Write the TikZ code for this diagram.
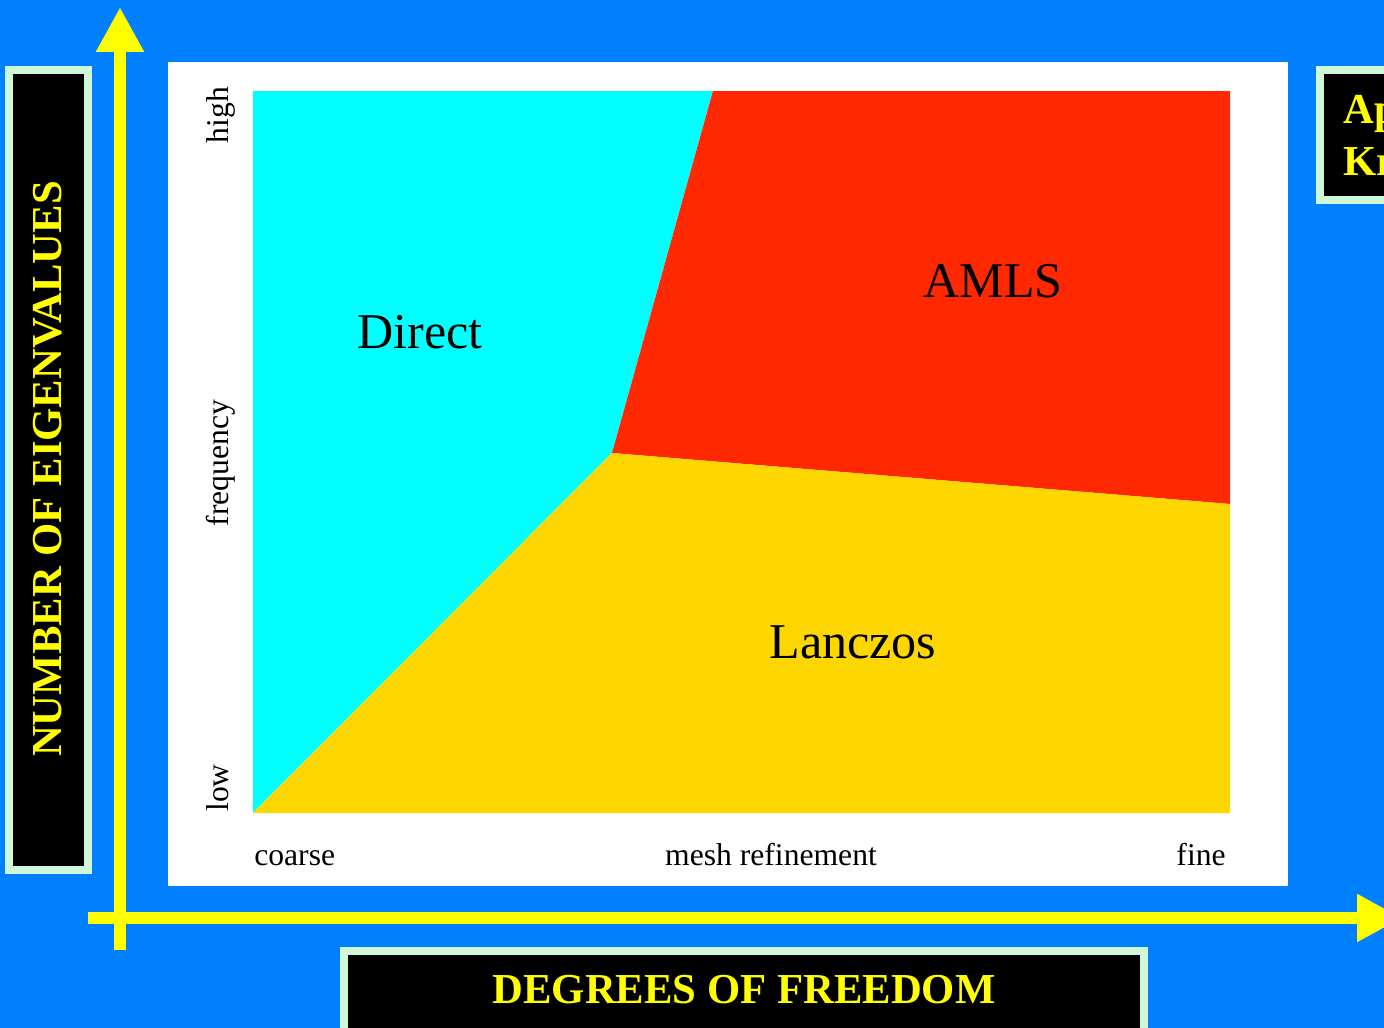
\documentclass[tikz,border=0pt]{standalone}
\usepackage{fontspec}
\setmainfont{Liberation Serif}
\usetikzlibrary{arrows.meta}
\definecolor{bgblue}{RGB}{0,128,255}
\definecolor{boxgreen}{RGB}{208,248,216}
\definecolor{directcyan}{RGB}{0,255,255}
\definecolor{amlsred}{RGB}{255,40,0}
\definecolor{lanczosgold}{RGB}{255,215,0}
\definecolor{axisyellow}{RGB}{255,255,0}
\begin{document}
\begin{tikzpicture}[line join=miter,x=0.02cm,y=-0.02cm,
  axis/.style={draw=axisyellow,line width=0.24cm,-{Triangle[length=0.9cm,width=0.9cm]}},
  titlebox/.style={fill=black,draw=boxgreen,line width=0.16cm},
  region/.style={font=\fontsize{28.5}{34}\selectfont},
  tick/.style={font=\fontsize{18}{22}\selectfont},
  boxlabel/.style={text=axisyellow,font=\fontsize{24.3}{29}\selectfont\bfseries}]
\useasboundingbox (0,0) rectangle (1384,1028);
\clip (0,0) rectangle (1384,1028);
\fill[bgblue] (0,0) rectangle (1384,1028);
\draw[titlebox] (9,70) rectangle (88,870);
\draw[titlebox] (344,951) rectangle (1144,1040);
\draw[titlebox] (1320,70) rectangle (1400,200);
\fill[white] (168,62) rectangle (1288,886);
\coordinate (sw) at (253,813);
\coordinate (nw) at (253,91);
\coordinate (ne) at (1230,91);
\coordinate (se) at (1230,813);
\coordinate (mid) at (612,453);
\coordinate (topcut) at (713,91);
\coordinate (rightcut) at (1230,504);
\fill[directcyan] (sw)--(nw)--(topcut)--(mid)--cycle;
\fill[amlsred] (topcut)--(ne)--(rightcut)--(mid)--cycle;
\fill[lanczosgold] (sw)--(mid)--(rightcut)--(se)--cycle;
\node[region] (direct) at (420,332) {Direct};
\node[region] (amls) at (993,281) {AMLS};
\node[region] (lanczos) at (853,642) {Lanczos};
\node[tick,anchor=base west,inner sep=0pt] (coarse) at (254,865) {coarse};
\node[tick,anchor=base,inner sep=0pt] (mesh) at (771,865) {mesh refinement};
\node[tick,anchor=base east,inner sep=0pt] (fine) at (1226,865) {fine};
\node[tick,rotate=90,anchor=base,inner sep=0pt] (high) at (228,115) {high};
\node[tick,rotate=90,anchor=base,inner sep=0pt] (freq) at (228,463) {frequency};
\node[tick,rotate=90,anchor=base,inner sep=0pt] (low) at (228,788) {low};
\coordinate (ybottom) at (120,950);
\coordinate (ytop) at (120,7);
\coordinate (xleft) at (88,918);
\coordinate (xright) at (1402,918);
\draw[axis] (ybottom)--(ytop);
\draw[axis] (xleft)--(xright);
\node[boxlabel,rotate=90] (neig) at (48,469) {NUMBER OF EIGENVALUES};
\node[boxlabel] (dof) at (744,990) {DEGREES OF FREEDOM};
\node[boxlabel,anchor=base west,inner sep=0pt] (ap) at (1343,123) {Ap};
\node[boxlabel,anchor=base west,inner sep=0pt] (kr) at (1343,175) {Kr};
\end{tikzpicture}
\end{document}
